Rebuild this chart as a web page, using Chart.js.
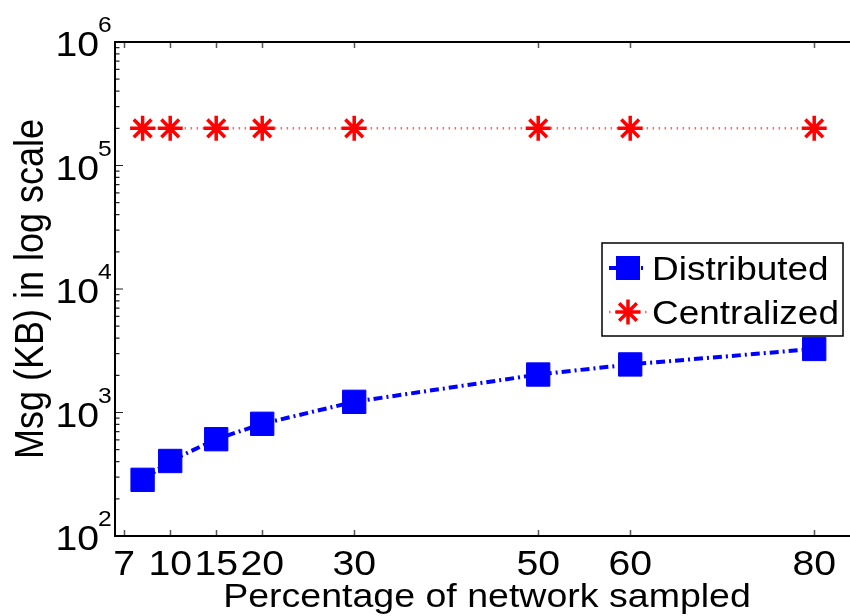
<!DOCTYPE html>
<html>
<head>
<meta charset="utf-8">
<script src="https://cdn.jsdelivr.net/npm/chart.js@4.4.0/dist/chart.umd.min.js"></script>
<style>
  html, body { margin: 0; padding: 0; background: #fff; }
  #wrap { width: 850px; height: 616px; overflow: hidden; position: relative; }
  canvas { display: block; }
</style>
</head>
<body>
<div id="wrap"><canvas id="msgChart" width="853" height="616"></canvas></div>
<script>
// Message volume vs. share of the network that was sampled
const sampled = [7, 10, 15, 20, 30, 50, 60, 80];
const distributedKB = [285, 405, 608, 810, 1220, 2030, 2450, 3270];
const centralizedKB = [200000, 200000, 200000, 200000, 200000, 200000, 200000, 200000];

// x ticks sit at these positions but carry these labels
const xTickValues = [5, 10, 15, 20, 30, 50, 60, 80];
const xTickLabels = ['7', '10', '15', '20', '30', '50', '60', '80'];
const yExponents = [2, 3, 4, 5, 6];

const seriesNames = ['Distributed', 'Centralized'];
const xTitle = 'Percentage of network sampled';
const yTitle = 'Msg (KB) in log scale';

const FONT = '"Liberation Sans", Arial, Helvetica, sans-serif';
const STRETCH = 1.12; // text is a little wider than it is tall

const BLUE = '#0000ff';
const RED = '#ff0000';

function drawText(ctx, text, x, y, size, align, rotated) {
  ctx.save();
  ctx.translate(x, y);
  ctx.scale(STRETCH, 1);
  if (rotated) ctx.rotate(-Math.PI / 2);
  ctx.font = size + 'px ' + FONT;
  ctx.fillStyle = '#000';
  ctx.textAlign = align;
  ctx.textBaseline = 'alphabetic';
  ctx.fillText(text, 0, 0);
  ctx.restore();
}

function drawStar(ctx, x, y, r) {
  ctx.save();
  ctx.strokeStyle = RED;
  ctx.lineWidth = 3.5;
  ctx.beginPath();
  for (let i = 0; i < 4; i++) {
    const a = i * Math.PI / 4;
    ctx.moveTo(x - Math.cos(a) * r, y - Math.sin(a) * r);
    ctx.lineTo(x + Math.cos(a) * r, y + Math.sin(a) * r);
  }
  ctx.stroke();
  ctx.restore();
}

// Frame, inward ticks and log minor ticks
const frameAndTicks = {
  id: 'frameAndTicks',
  beforeDatasetsDraw(chart) {
    const { ctx, chartArea: a, scales: { x, y } } = chart;
    ctx.save();
    ctx.strokeStyle = '#555';
    ctx.lineWidth = 1.5;
    ctx.beginPath();
    xTickValues.forEach(v => {
      const px = Math.round(x.getPixelForValue(v)) + 0.5;
      ctx.moveTo(px, a.bottom); ctx.lineTo(px, a.bottom - 6);
      ctx.moveTo(px, a.top); ctx.lineTo(px, a.top + 6);
    });
    ctx.stroke();

    ctx.strokeStyle = '#222';
    ctx.lineWidth = 1.2;
    ctx.beginPath();
    yExponents.forEach(e => {
      const py = y.getPixelForValue(Math.pow(10, e));
      ctx.moveTo(a.left, py); ctx.lineTo(a.left + 8, py);
      if (e < 6) {
        for (let m = 2; m <= 9; m++) {
          const pm = y.getPixelForValue(m * Math.pow(10, e));
          ctx.moveTo(a.left, pm); ctx.lineTo(a.left + 4.5, pm);
        }
      }
    });
    ctx.stroke();

    ctx.strokeStyle = '#000';
    ctx.lineWidth = 2;
    ctx.strokeRect(a.left, a.top, a.right - a.left, a.bottom - a.top);
    ctx.restore();
  },
  afterDraw(chart) {
    const { ctx, chartArea: a, scales: { x, y } } = chart;

    // tick labels
    xTickValues.forEach((v, i) => {
      drawText(ctx, xTickLabels[i], x.getPixelForValue(v), 575, 35, 'center');
    });
    yExponents.forEach(e => {
      const py = y.getPixelForValue(Math.pow(10, e));
      drawText(ctx, '10', 99, py + 14, 35, 'right');
      drawText(ctx, String(e), 98, py - 10, 22, 'left');
    });

    // axis titles
    drawText(ctx, xTitle, 487, 607, 33.5, 'center');
    drawText(ctx, yTitle, 43, (a.top + a.bottom) / 2, 36, 'center', true);

    // legend
    const box = { left: 602, top: 243, right: 843, bottom: 336 };
    ctx.save();
    ctx.fillStyle = '#fff';
    ctx.fillRect(box.left, box.top, box.right - box.left, box.bottom - box.top);
    ctx.strokeStyle = '#000';
    ctx.lineWidth = 1.5;
    ctx.strokeRect(box.left, box.top, box.right - box.left, box.bottom - box.top);

    const rows = [268, 312];
    const ds = chart.data.datasets;
    rows.forEach((ry, i) => {
      ctx.save();
      ctx.strokeStyle = ds[i].borderColor;
      ctx.lineWidth = ds[i].borderWidth;
      ctx.setLineDash(ds[i].borderDash);
      ctx.beginPath();
      ctx.moveTo(609, ry); ctx.lineTo(647, ry);
      ctx.stroke();
      ctx.restore();
      if (i === 0) {
        ctx.fillStyle = BLUE;
        ctx.fillRect(616, ry - 12, 24, 24);
      } else {
        drawStar(ctx, 628, ry, 12.5);
      }
      drawText(ctx, seriesNames[i], 652, ry + 12, 33, 'left');
    });
    ctx.restore();
  }
};

const toPoints = vals => sampled.map((s, i) => ({ x: s, y: vals[i] }));

new Chart(document.getElementById('msgChart'), {
  type: 'line',
  data: {
    datasets: [
      {
        label: seriesNames[0],
        data: toPoints(distributedKB),
        borderColor: BLUE,
        borderWidth: 4,
        borderDash: [9, 4, 2, 4],
        tension: 0,
        pointStyle: 'rect',
        pointRadius: 16.5,
        pointBackgroundColor: BLUE,
        pointBorderColor: BLUE,
        pointBorderWidth: 1,
        fill: false
      },
      {
        label: seriesNames[1],
        data: toPoints(centralizedKB),
        borderColor: 'rgba(255, 0, 0, 0.6)',
        borderWidth: 2.5,
        borderDash: [1.5, 4.5],
        tension: 0,
        pointStyle: 'star',
        pointRadius: 12.5,
        pointBorderColor: RED,
        pointBackgroundColor: RED,
        pointBorderWidth: 3.5,
        fill: false
      }
    ]
  },
  options: {
    responsive: false,
    animation: false,
    devicePixelRatio: 1,
    layout: { autoPadding: false, padding: { top: 42, right: 2, left: 0, bottom: 0 } },
    plugins: { legend: { display: false }, tooltip: { enabled: false } },
    scales: {
      x: {
        type: 'linear',
        min: 4,
        max: 84,
        grid: { display: false },
        border: { display: false },
        ticks: { display: false },
        afterFit: s => { s.height = 80; }
      },
      y: {
        type: 'logarithmic',
        min: 100,
        max: 1000000,
        grid: { display: false },
        border: { display: false },
        ticks: { display: false },
        afterFit: s => { s.width = 115; }
      }
    }
  },
  plugins: [frameAndTicks]
});
</script>
</body>
</html>
